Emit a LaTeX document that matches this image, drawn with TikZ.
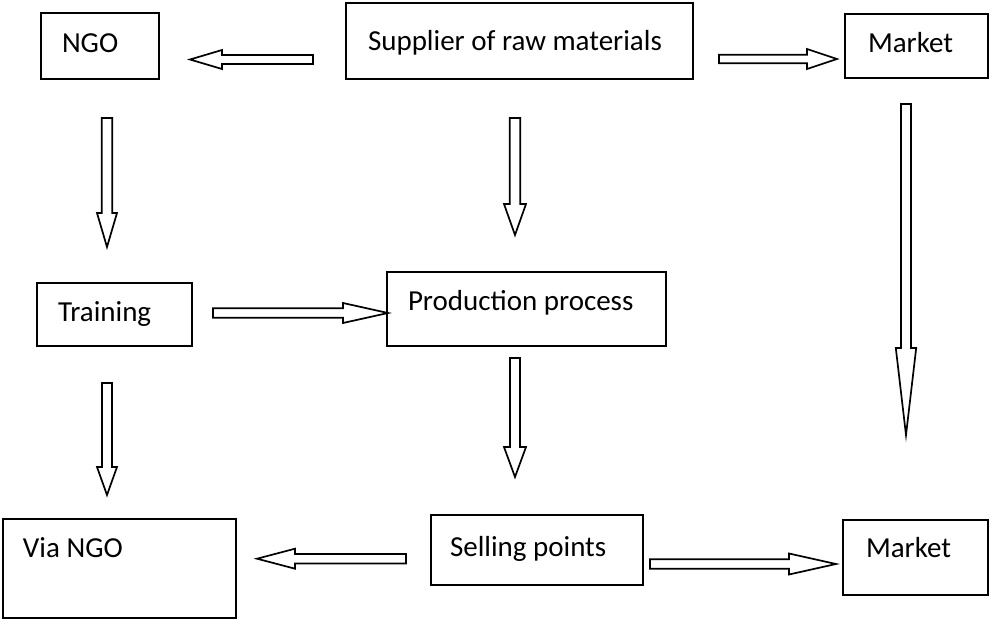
\documentclass[tikz,border=0pt]{standalone}
\usepackage{fontspec}
\setmainfont{Carlito}
\usetikzlibrary{calc}
\tikzset{
  box/.style={draw=black, line width=1.9pt, inner sep=0pt, outer sep=0pt, anchor=north west},
  lbl/.style={anchor=base west, inner sep=0pt, outer sep=0pt, font=\fontsize{29}{34}\selectfont},
  blk/.style={draw=black, line width=1.7pt, line join=miter, fill=white}
}
% #1 tail, #2 tip, #3 shaft half width, #4 head half width, #5 head length
\newcommand\blkarrow[5]{%
  \draw[blk] let \p1=(#1), \p2=(#2),
    \n1={veclen(\x2-\x1,\y2-\y1)},
    \n2={(\x2-\x1)/\n1},
    \n3={(\y2-\y1)/\n1}
  in ({\x1-#3*\n3},{\y1+#3*\n2})
  -- ({\x2-#5*\n2-#3*\n3},{\y2-#5*\n3+#3*\n2})
  -- ({\x2-#5*\n2-#4*\n3},{\y2-#5*\n3+#4*\n2})
  -- (\p2)
  -- ({\x2-#5*\n2+#4*\n3},{\y2-#5*\n3-#4*\n2})
  -- ({\x2-#5*\n2+#3*\n3},{\y2-#5*\n3-#3*\n2})
  -- ({\x1+#3*\n3},{\y1-#3*\n2})
  -- cycle;}
\begin{document}
\begin{tikzpicture}[x=1pt,y=-1pt]
\useasboundingbox (0,0) rectangle (994,619);
% boxes
\node[box, minimum width=118pt, minimum height=66pt] (ngo) at (41,13) {};
\node[box, minimum width=347pt, minimum height=76pt] (sup) at (346,3) {};
\node[box, minimum width=143pt, minimum height=64pt] (mkt1) at (845,14) {};
\node[box, minimum width=155pt, minimum height=63pt] (trn) at (37,283) {};
\node[box, minimum width=279pt, minimum height=74pt] (prd) at (387,272) {};
\node[box, minimum width=233pt, minimum height=99pt] (via) at (3,519) {};
\node[box, minimum width=212pt, minimum height=70pt] (sel) at (431,515) {};
\node[box, minimum width=145pt, minimum height=75pt] (mkt2) at (843,520) {};
% labels
\node[lbl] (ngoT) at (62,52) {NGO};
\node[lbl] (supT) at (368,50) {Supplier of raw materials};
\node[lbl] (mkt1T) at (868,52) {Market};
\node[lbl] (trnT) at (58,321) {Training};
\node[lbl] (prdT) at (408,310) {Production process};
\node[lbl] (viaT) at (23,557) {Via NGO};
\node[lbl] (selT) at (450,556) {Selling points};
\node[lbl] (mkt2T) at (866,557) {Market};
% arrow end points
\coordinate (a1s) at (313,59.5);  \coordinate (a1e) at (190,59.5);
\coordinate (a2s) at (719,59);    \coordinate (a2e) at (837,59);
\coordinate (a3s) at (515,118);   \coordinate (a3e) at (515,235);
\coordinate (a4s) at (107,118);   \coordinate (a4e) at (107,247);
\coordinate (a5s) at (906,104);   \coordinate (a5e) at (906,435);
\coordinate (a6s) at (213,313);   \coordinate (a6e) at (388,313);
\coordinate (a7s) at (107,383);   \coordinate (a7e) at (107,495);
\coordinate (a8s) at (515,358);   \coordinate (a8e) at (515,477);
\coordinate (a9s) at (406,558.7); \coordinate (a9e) at (257,558.7);
\coordinate (a10s) at (650,564);  \coordinate (a10e) at (836,564);
% block arrows
\blkarrow{a1s}{a1e}{4.5}{9.5}{32}
\blkarrow{a2s}{a2e}{4.2}{10}{30}
\blkarrow{a3s}{a3e}{5.3}{11}{31}
\blkarrow{a4s}{a4e}{5.3}{10}{34}
\blkarrow{a5s}{a5e}{5}{10.2}{87}
\blkarrow{a6s}{a6e}{4.7}{10}{45}
\blkarrow{a7s}{a7e}{5}{10}{28}
\blkarrow{a8s}{a8e}{5}{11}{30}
\blkarrow{a9s}{a9e}{4.7}{10}{38}
\blkarrow{a10s}{a10e}{4.7}{10.5}{47}
\end{tikzpicture}
\end{document}
